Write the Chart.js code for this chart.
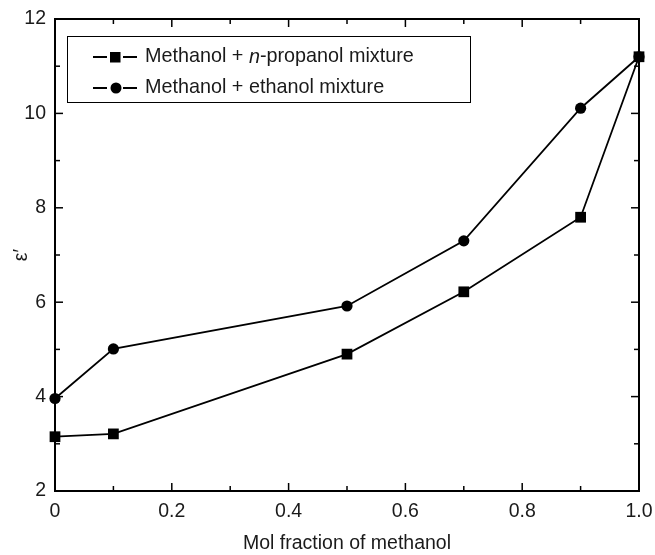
<!DOCTYPE html>
<html>
<head>
<meta charset="utf-8">
<script src="https://cdn.jsdelivr.net/npm/chart.js@4/dist/chart.umd.min.js"></script>
<style>
  html, body { margin: 0; padding: 0; background: #fff; }
  #wrap { width: 655px; height: 555px; }
</style>
</head>
<body>
<div id="wrap"><canvas id="c" width="655" height="555"></canvas></div>
<script>
const molFraction = [0, 0.1, 0.5, 0.7, 0.9, 1.0];
const propanolMix = [3.15, 3.21, 4.90, 6.22, 7.80, 11.20];
const ethanolMix = [3.96, 5.01, 5.92, 7.30, 10.11, 11.20];
const seriesNames = ['Methanol + n-propanol mixture', 'Methanol + ethanol mixture'];
const xTitle = 'Mol fraction of methanol';
const yTitle = 'ε′';
const xMajorTicks = [0, 0.2, 0.4, 0.6, 0.8, 1.0];
const xMinorTicks = [0.1, 0.3, 0.5, 0.7, 0.9];
const yMajorTicks = [2, 4, 6, 8, 10, 12];
const yMinorTicks = [3, 5, 7, 9, 11];

const FONT = '"Liberation Sans", Arial, Helvetica, sans-serif';
const TEXT = '#1a1a1a';

const toPts = (xs, ys) => xs.map((x, i) => ({ x: x, y: ys[i] }));

const framePlugin = {
  id: 'frame',
  beforeDatasetsDraw(chart) {
    const { ctx, chartArea: a, scales: { x, y } } = chart;
    ctx.save();
    ctx.strokeStyle = '#000';
    ctx.lineWidth = 1.5;
    const tick = (px, py, dx, dy) => { ctx.beginPath(); ctx.moveTo(px, py); ctx.lineTo(px + dx, py + dy); ctx.stroke(); };
    xMajorTicks.forEach(v => { const p = x.getPixelForValue(v); tick(p, a.bottom, 0, -8); tick(p, a.top, 0, 8); });
    xMinorTicks.forEach(v => { const p = x.getPixelForValue(v); tick(p, a.bottom, 0, -5); tick(p, a.top, 0, 5); });
    yMajorTicks.forEach(v => { const p = y.getPixelForValue(v); tick(a.left, p, 8, 0); tick(a.right, p, -8, 0); });
    yMinorTicks.forEach(v => { const p = y.getPixelForValue(v); tick(a.left, p, 5, 0); tick(a.right, p, -5, 0); });
    ctx.lineWidth = 2;
    ctx.strokeRect(a.left, a.top, a.right - a.left, a.bottom - a.top);
    ctx.restore();
  },
  afterDraw(chart) {
    const { ctx } = chart;
    ctx.save();
    ctx.strokeStyle = '#000';
    ctx.lineWidth = 1;
    ctx.strokeRect(67.5, 36.5, 403, 66);
    const rows = [57, 88];
    ctx.lineWidth = 2;
    rows.forEach((ry, i) => {
      ctx.beginPath(); ctx.moveTo(93, ry); ctx.lineTo(107, ry); ctx.moveTo(123, ry); ctx.lineTo(137, ry); ctx.stroke();
      ctx.fillStyle = '#000';
      if (i === 0) { ctx.fillRect(110, ry - 5, 10.5, 10.5); }
      else { ctx.beginPath(); ctx.arc(116, ry, 5.5, 0, Math.PI * 2); ctx.fill(); }
    });
    ctx.fillStyle = TEXT;
    ctx.textBaseline = 'middle';
    ctx.textAlign = 'left';
    const normal = '19.8px ' + FONT, italic = 'italic 19.8px ' + FONT;
    let tx = 145;
    const name = seriesNames[0];
    const idx = name.indexOf('n-');
    const parts = [[name.slice(0, idx), normal], ['n', italic], [name.slice(idx + 1), normal]];
    parts.forEach(([t, f]) => { ctx.font = f; ctx.fillText(t, tx, rows[0]); tx += ctx.measureText(t).width; });
    ctx.font = normal;
    ctx.fillText(seriesNames[1], 145, rows[1]);
    ctx.restore();
  }
};

new Chart(document.getElementById('c'), {
  type: 'line',
  data: {
    datasets: [
      {
        label: seriesNames[0], data: toPts(molFraction, propanolMix),
        borderColor: '#000', backgroundColor: '#000', borderWidth: 1.8,
        pointStyle: 'rect', pointRadius: 7.6, pointBorderWidth: 0, pointBackgroundColor: '#000',
        tension: 0, clip: false
      },
      {
        label: seriesNames[1], data: toPts(molFraction, ethanolMix),
        borderColor: '#000', backgroundColor: '#000', borderWidth: 1.8,
        pointStyle: 'circle', pointRadius: 5.6, pointBorderWidth: 0, pointBackgroundColor: '#000',
        tension: 0, clip: false
      }
    ]
  },
  options: {
    responsive: false,
    animation: false,
    layout: { padding: { top: 19, right: 16, left: 0, bottom: 0 } },
    plugins: { legend: { display: false }, tooltip: { enabled: false } },
    scales: {
      x: {
        type: 'linear', min: 0, max: 1,
        grid: { display: false, drawTicks: false },
        border: { display: false },
        afterFit: s => { s.height = 64; s.paddingRight = 0; s.paddingLeft = 0; },
        afterBuildTicks: s => { s.ticks = xMajorTicks.map(v => ({ value: v })); },
        ticks: {
          padding: 9, color: TEXT, font: { family: FONT, size: 19.5 },
          maxRotation: 0, autoSkip: false,
          callback: v => (v === 0 ? '0' : Number(v).toFixed(1))
        },
        title: { display: true, text: xTitle, color: TEXT, font: { family: FONT, size: 19.5 }, padding: { top: 10, bottom: 0 } }
      },
      y: {
        type: 'linear', min: 2, max: 12,
        grid: { display: false, drawTicks: false },
        border: { display: false },
        afterFit: s => { s.width = 55; s.paddingTop = 0; s.paddingBottom = 0; },
        afterBuildTicks: s => { s.ticks = yMajorTicks.map(v => ({ value: v })); },
        ticks: { padding: 9, color: TEXT, font: { family: FONT, size: 19.5 }, autoSkip: false, callback: v => String(v) },
        title: { display: true, text: yTitle, color: TEXT, font: { family: FONT, size: 19.5 }, padding: { top: 10, bottom: 4 } }
      }
    }
  },
  plugins: [framePlugin]
});
</script>
</body>
</html>
